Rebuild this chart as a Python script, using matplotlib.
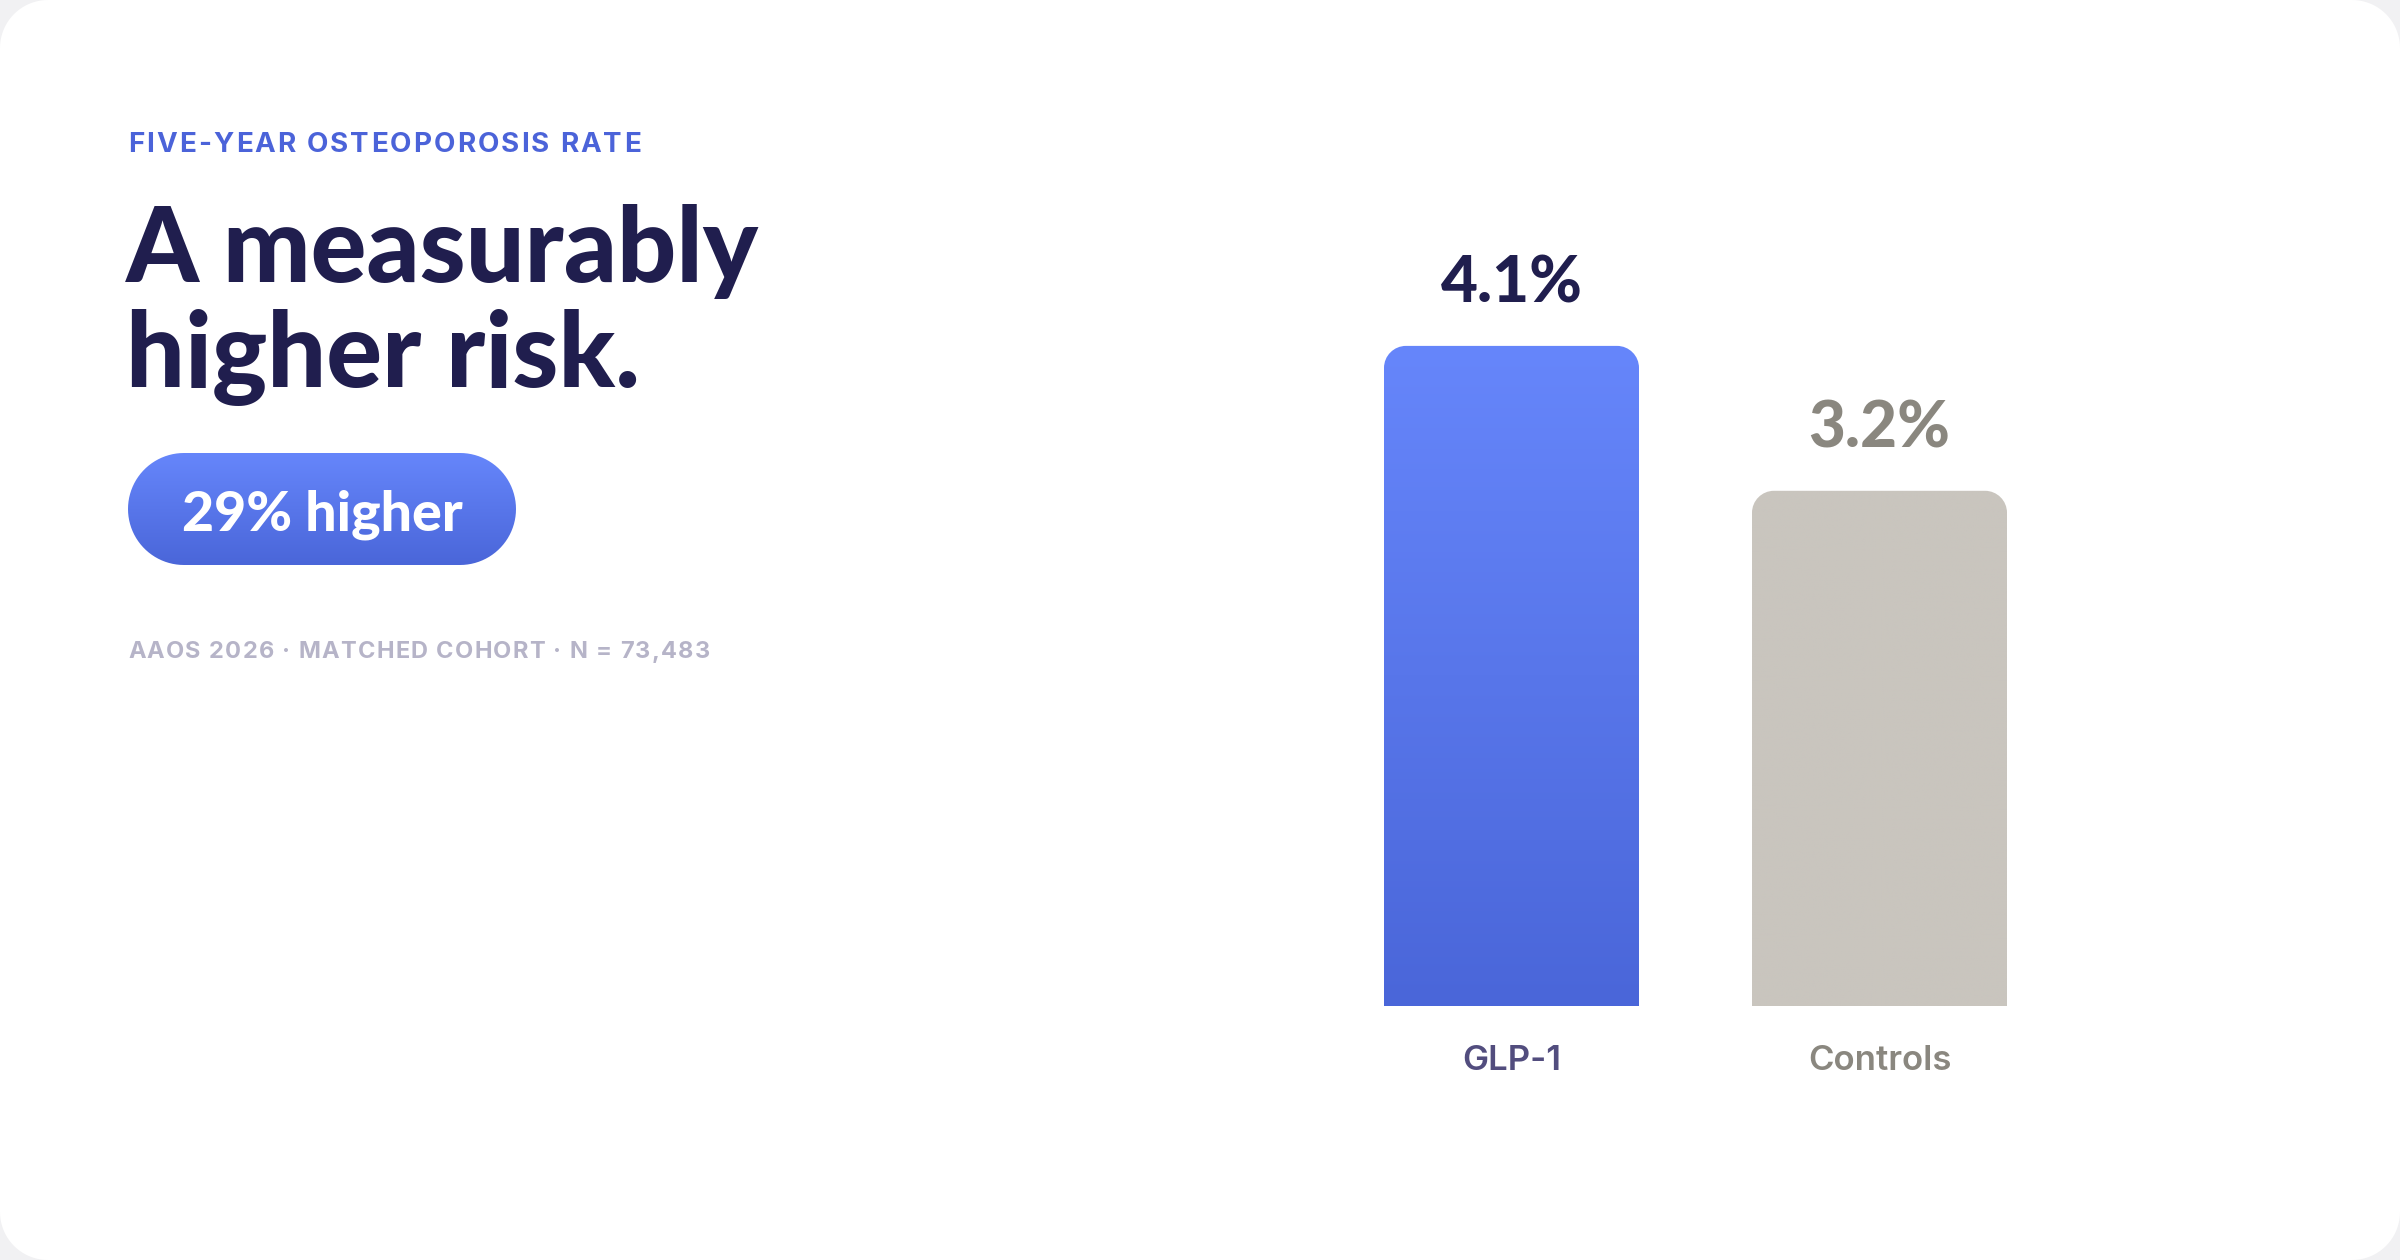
import numpy as np
import matplotlib
matplotlib.use("Agg")
import matplotlib.pyplot as plt
from matplotlib import font_manager
from matplotlib.patches import FancyBboxPatch, PathPatch
from matplotlib.path import Path
from matplotlib.colors import to_rgb

# ---------------------------------------------------------------------------
# data
# ---------------------------------------------------------------------------
categories   = ["GLP-1", "Controls"]
rates        = [4.1, 3.2]
value_labels = ["4.1%", "3.2%"]
eyebrow      = "FIVE-YEAR OSTEOPOROSIS RATE"
title_lines  = ["A measurably", "higher risk."]
badge        = "29% higher"
footnote     = "AAOS 2026 · MATCHED COHORT · N = 73,483"

# colours
NAVY     = "#201e4e"
BLUE     = "#4b63d9"
BLUE_TOP = "#6686fb"
BLUE_BOT = "#4a66d9"
STONE    = "#c9c5be"
STONE_TX = "#8a877f"
GLP_TX   = "#524d7e"
FOOT_TX  = "#b6b4c8"

# heaviest Lato we can find
names = {f.name for f in font_manager.fontManager.ttflist}
heavy_weight = "black"
if "Lato Black" in names:
    HEAVY = ["Lato Black", "Lato", "DejaVu Sans"]
elif "Lato Heavy" in names:
    HEAVY = ["Lato Heavy", "Lato", "DejaVu Sans"]
else:
    HEAVY = ["Lato", "DejaVu Sans"]
SANS = ["Inter", "DejaVu Sans"]

W, H = 2400, 1260
fig = plt.figure(figsize=(W / 100, H / 100), dpi=100, facecolor="#f1f1f3")

# full-figure pixel axes for the card and the left-hand text block
bg = fig.add_axes([0, 0, 1, 1])
bg.set_xlim(0, W)
bg.set_ylim(H, 0)
bg.axis("off")


def rounded_rect(x0, y0, x1, y1, r, n=24):
    """closed path of a rectangle with circular corners (pixel coords)"""
    pts = []
    for cx, cy, a0 in [(x1 - r, y0 + r, -90), (x1 - r, y1 - r, 0),
                       (x0 + r, y1 - r, 90), (x0 + r, y0 + r, 180)]:
        t = np.radians(np.linspace(a0, a0 + 90, n))
        pts += list(zip(cx + r * np.cos(t), cy + r * np.sin(t)))
    pts.append(pts[0])
    return Path(pts, closed=True)


bg.add_patch(PathPatch(rounded_rect(0, 0, W, H, 48), fc="white", ec="none"))

renderer = fig.canvas.get_renderer()


def tracked(ax, x, y, s, track, **kw):
    """draw s char by char with extra letter spacing (px)"""
    def width(txt):
        t = ax.text(0, 0, txt, **kw)
        w = t.get_window_extent(renderer).width
        t.remove()
        return w
    space = width("a a") - width("aa")
    for ch in s:
        if ch == " ":
            x += space + track
            continue
        t = ax.text(x, y, ch, ha="left", va="baseline", **kw)
        x += t.get_window_extent(renderer).width + track
    return x


def vgrad(top, bot, n=256):
    a, b = np.array(to_rgb(top)), np.array(to_rgb(bot))
    f = np.linspace(0, 1, n)[:, None]
    return (a + (b - a) * f)[:, None, :]


# eyebrow
tracked(bg, 128, 152, eyebrow, 2.1, fontsize=20, fontweight="bold",
        color=BLUE, family=SANS)

# headline
for i, line in enumerate(title_lines):
    bg.text(126, 282 + i * 105, line, ha="left", va="baseline", fontsize=75,
            fontweight=heavy_weight, color=NAVY, family=HEAVY)

# pill badge with gradient
px0, px1, py0, py1 = 128, 516, 453, 565
pill = PathPatch(rounded_rect(px0, py0, px1, py1, (py1 - py0) / 2),
                 fc="none", ec="none")
bg.add_patch(pill)
im = bg.imshow(vgrad(BLUE_TOP, BLUE_BOT), extent=(px0, px1, py1, py0),
               aspect="auto", origin="upper", zorder=1)
im.set_clip_path(pill)
bg.text((px0 + px1) / 2, 530, badge, ha="center", va="baseline", fontsize=40,
        fontweight=heavy_weight, color="white", family=HEAVY, zorder=2)

# footnote
tracked(bg, 128, 658, footnote, 1.3, fontsize=17, fontweight="bold",
        color=FOOT_TX, family=SANS)

bg.set_xlim(0, W)
bg.set_ylim(H, 0)

# ---------------------------------------------------------------------------
# bar chart
# ---------------------------------------------------------------------------
ax = fig.add_axes([1327.5 / W, (H - 1006) / H, 736 / W, 805 / H])
ax.patch.set_alpha(0)
ax.set_xlim(-0.5, 1.5)
ax.set_ylim(0, 5)
ax.axis("off")

x = np.arange(len(categories))
bars = ax.bar(x, rates, width=255 / 368, color="none")

RAD_PX = 22
rx = RAD_PX / 368
ry = RAD_PX / 161
K = 0.5523
fills = [vgrad(BLUE_TOP, BLUE_BOT), vgrad(STONE, STONE)]
val_colors = [NAVY, STONE_TX]
cat_colors = [GLP_TX, STONE_TX]

for i, b in enumerate(bars):
    x0, w, h = b.get_x(), b.get_width(), b.get_height()
    x1 = x0 + w
    verts = [(x0, 0), (x0, h - ry),
             (x0, h - ry + K * ry), (x0 + rx - K * rx, h), (x0 + rx, h),
             (x1 - rx, h),
             (x1 - rx + K * rx, h), (x1, h - ry + K * ry), (x1, h - ry),
             (x1, 0), (x0, 0)]
    codes = [Path.MOVETO, Path.LINETO,
             Path.CURVE4, Path.CURVE4, Path.CURVE4,
             Path.LINETO,
             Path.CURVE4, Path.CURVE4, Path.CURVE4,
             Path.LINETO, Path.CLOSEPOLY]
    shape = PathPatch(Path(verts, codes), fc="none", ec="none")
    ax.add_patch(shape)
    g = ax.imshow(fills[i], extent=(x0, x1, 0, h), aspect="auto", origin="upper")
    g.set_clip_path(shape)
    b.set_visible(False)

    ax.annotate(value_labels[i], (x0 + w / 2, h), xytext=(0, 31.5),
                textcoords="offset points", ha="center", va="baseline",
                fontsize=46, fontweight=heavy_weight, color=val_colors[i],
                family=HEAVY)
    ax.annotate(categories[i], (x0 + w / 2, 0), xytext=(0, -46),
                textcoords="offset points", ha="center", va="baseline",
                fontsize=25, fontweight="semibold", color=cat_colors[i], family=SANS)

ax.set_xlim(-0.5, 1.5)
ax.set_ylim(0, 5)

fig.savefig("out.png", dpi=100, facecolor=fig.get_facecolor())
